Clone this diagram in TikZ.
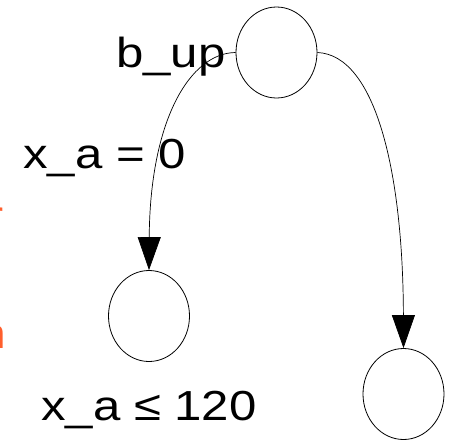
\documentclass[tikz,border=0pt]{standalone}
\usepackage{fontspec}
\setmainfont{Liberation Sans}
\usetikzlibrary{shapes.geometric,arrows.meta}
\definecolor{cutorange}{RGB}{255,95,45}
\tikzset{
  state/.style={draw=black, line width=0.8pt, ellipse, minimum width=81pt, minimum height=91pt, inner sep=0pt},
  edge/.style={draw=black, line width=0.7pt, -{Triangle[width=23pt,length=33pt]}},
  lab/.style={font=\fontsize{42}{46}\selectfont, inner sep=0pt, text=black},
  cut/.style={font=\fontsize{42}{46}\selectfont, inner sep=0pt, text=cutorange}
}
\begin{document}
\begin{tikzpicture}[x=1pt,y=-1pt]
\useasboundingbox (0,0) rectangle (453,440);
\clip (0,0) rectangle (453,440);
\fill[white] (0,0) rectangle (453,440);
\node[state] (s0) at (276.5,52.5) {};
\node[state] (s1) at (149,316) {};
\node[state] (s2) at (403.5,394) {};
\draw[edge] (s0.west) .. controls (190,53) and (150,120) .. (s1.north);
\draw[edge] (s0.east) .. controls (375,55) and (403,170) .. (s2.north);
\node[lab, anchor=base west] (l0) at (116,67) {\scalebox{1.17}[1]{b\_up}};
\node[lab, anchor=base west] (l1) at (23,168) {\scalebox{1.17}[1]{x\_a = 0}};
\node[lab, anchor=base west] (l2) at (41,420) {\scalebox{1.17}[1]{x\_a ≤ 120}};
\node[cut, anchor=base east] (c0) at (4,230) {r};
\node[cut, anchor=base east] (c1) at (6,348) {n};
\end{tikzpicture}
\end{document}
